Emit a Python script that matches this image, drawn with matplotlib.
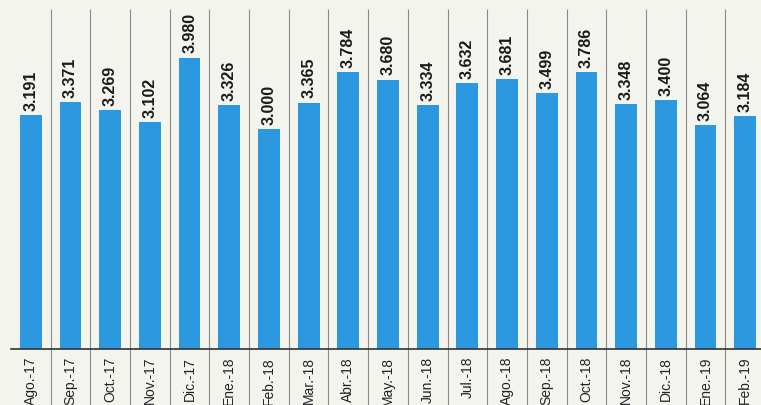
import numpy as np
import matplotlib.pyplot as plt

months = ['Ago.-17', 'Sep.-17', 'Oct.-17', 'Nov.-17', 'Dic.-17', 'Ene.-18',
          'Feb.-18', 'Mar.-18', 'Abr.-18', 'May.-18', 'Jun.-18', 'Jul.-18',
          'Ago.-18', 'Sep.-18', 'Oct.-18', 'Nov.-18', 'Dic.-18', 'Ene.-19',
          'Feb.-19']
values = [3.191, 3.371, 3.269, 3.102, 3.980, 3.326, 3.000, 3.365, 3.784,
          3.680, 3.334, 3.632, 3.681, 3.499, 3.786, 3.348, 3.400, 3.064,
          3.184]

plt.rcParams['font.family'] = ['Liberation Sans', 'DejaVu Sans']

bg = '#f4f4ef'
fig = plt.figure(figsize=(7.61, 4.06), dpi=100, facecolor=bg)
# axes in pixel terms: x from 11 to 765, baseline at y=350 (from top)
ax = fig.add_axes([11 / 761, 56 / 406, 754 / 761, 350 / 406])
ax.set_facecolor(bg)

x = np.arange(len(months))
ax.bar(x, values, width=0.55, color='#2b98e0', zorder=2)

for xi, v in zip(x, values):
    ax.text(xi, v + 0.07, f'{v:.3f}', rotation=90, ha='center', va='bottom',
            fontsize=11.5, fontweight='bold', color='#1a1a1a')

# thin separators between months, running down through the labels
ax.vlines(x[:-1] + 0.5, -0.8, 4.64, colors='#8a8a8a', lw=0.8,
          clip_on=False, zorder=1)

ax.set_xlim(-0.5, len(months) - 0.5)
ax.set_ylim(0, 4.78)
ax.set_xticks(x)
ax.set_xticklabels(months, rotation=90, va='top', ha='center',
                   fontsize=10, color='#222222')
ax.tick_params(axis='x', length=0, pad=5)
ax.set_yticks([])

for s in ['top', 'right', 'left']:
    ax.spines[s].set_visible(False)
ax.spines['bottom'].set_color('#333333')
ax.spines['bottom'].set_linewidth(1.2)

fig.savefig('out.png', dpi=100, facecolor=bg)
